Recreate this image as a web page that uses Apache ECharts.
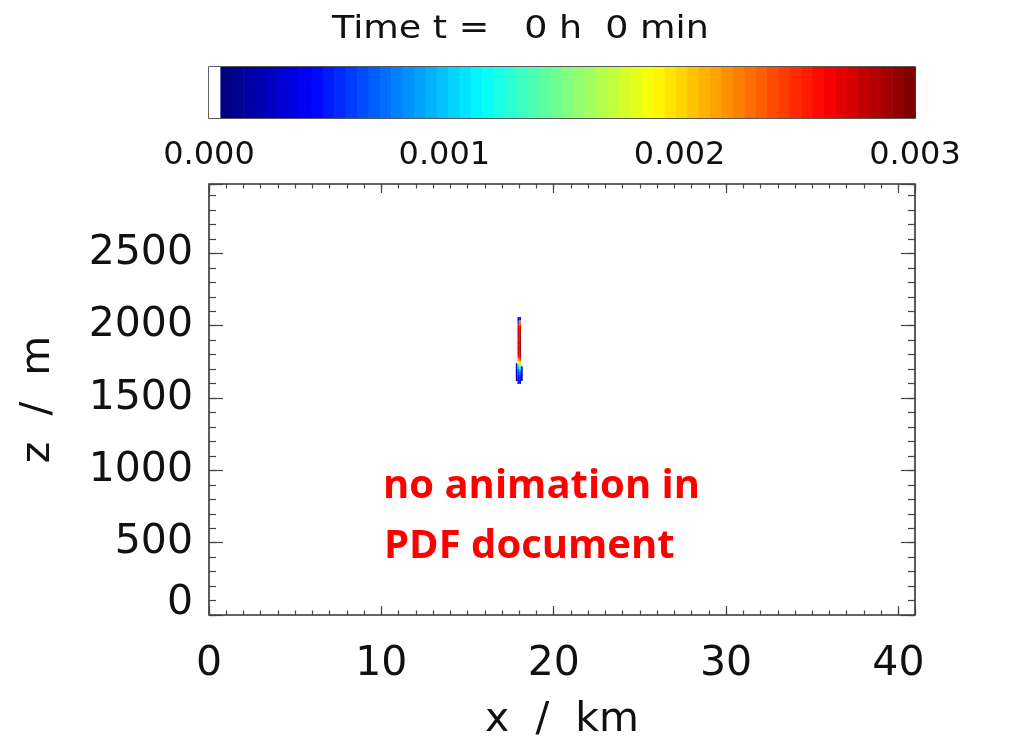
<!DOCTYPE html>
<html>
<head>
  <meta charset="UTF-8" />
  <title>Time t = 0 h 0 min</title>
  <script src="https://cdn.jsdelivr.net/npm/echarts@6/dist/echarts.min.js"></script>
  <style>
    html, body { margin: 0; padding: 0; background: #fff; }
    #main { width: 1010px; height: 739px; }
  </style>
</head>
<body>
  <div id="main"></div>
  <script>
    // colour scale (62 levels, first one white)
    const cbMax = 0.003;
    const nLevels = 62;
    const cbLabels = [0, 0.001, 0.002, 0.003];

    // model domain
    const xMaxKm = 40.96;
    const zMaxM = 2980;
    const xTicks = [0, 10, 20, 30, 40];
    const zTicks = [0, 500, 1000, 1500, 2000, 2500];

    // plume: column centres (km), row centres (m), values row by row
    const plumeX = [17.85, 17.95, 18.05, 18.15];
    const plumeZ = [1610, 1630, 1650, 1670, 1690, 1710, 1730, 1750, 1770, 1790,
                    1810, 1830, 1850, 1870, 1890, 1910, 1930, 1950, 1970, 1990,
                    2010, 2030, 2050];
    const plumeQ = [
      [0,      0.0002, 0.0003, 0     ],
      [0.0001, 0.0004, 0.0004, 0.0001],
      [0.0002, 0.0005, 0.0005, 0.0002],
      [0.0003, 0.0006, 0.0006, 0.0002],
      [0.0002, 0.0007, 0.0008, 0.0002],
      [0.0002, 0.0010, 0.0012, 0.0001],
      [0.0002, 0.0013, 0.0016, 0     ],
      [0,      0.0019, 0.0020, 0     ],
      [0,      0.0022, 0.0025, 0     ],
      [0,      0.0026, 0.0028, 0     ],
      [0,      0.0027, 0.0029, 0     ],
      [0,      0.0027, 0.0029, 0     ],
      [0,      0.0028, 0.0029, 0     ],
      [0,      0.0027, 0.0029, 0     ],
      [0,      0.0028, 0.0029, 0     ],
      [0,      0.0027, 0.0029, 0     ],
      [0,      0.0028, 0.0029, 0     ],
      [0,      0.0027, 0.0029, 0     ],
      [0,      0.0028, 0.0029, 0     ],
      [0,      0.0027, 0.0028, 0     ],
      [0,      0.0026, 0.0024, 0     ],
      [0,      0.0006, 0.0022, 0     ],
      [0,      0.0004, 0.0003, 0     ]
    ];

    const font = 'DejaVu Sans';
    const ink = '#111';
    const tickCol = '#444';

    function jet(t) {
      const c = v => Math.round(255 * Math.max(0, Math.min(1, v)));
      return 'rgb(' + c(1.5 - Math.abs(4 * t - 3)) + ',' + c(1.5 - Math.abs(4 * t - 2)) + ',' + c(1.5 - Math.abs(4 * t - 1)) + ')';
    }
    function levelOf(v) {
      return Math.min(nLevels - 1, Math.floor(v / (cbMax / nLevels)));
    }
    function levelColor(k) {
      return k === 0 ? '#ffffff' : jet((k - 1) / (nLevels - 2));
    }

    // colour bar bands
    const bands = [];
    for (let k = 0; k < nLevels; k++) {
      bands.push([k * cbMax / nLevels, (k + 1) * cbMax / nLevels, k]);
    }

    // plume cells
    const cells = [];
    plumeZ.forEach((z, i) => {
      plumeX.forEach((x, j) => {
        const v = plumeQ[i][j];
        if (levelOf(v) > 0) cells.push([x, z, v]);
      });
    });

    const isTick = (list, v) => list.some(t => Math.abs(t - v) < 1e-9);

    function tickAxis(pos, interval, len, extra) {
      return Object.assign({
        type: 'value', position: pos, interval: interval,
        axisLine: { show: false, onZero: false }, splitLine: { show: false },
        axisTick: { show: true, inside: true, length: len, lineStyle: { color: tickCol, width: 1.2 } },
        axisLabel: { show: false }
      }, extra);
    }

    const xMain = { gridIndex: 0, min: 0, max: xMaxKm };
    const zMain = { gridIndex: 0, min: 0, max: zMaxM };
    const cbX = { gridIndex: 1, min: 0, max: cbMax };

    let chart = echarts.init(document.getElementById('main'));
    chart.setOption({
      animation: false,
      backgroundColor: '#fff',
      grid: [
        { left: 209, top: 184, width: 706, height: 431, show: true, borderColor: '#333', borderWidth: 1.6,
          backgroundColor: 'transparent', containLabel: false, outerBoundsMode: 'none' },
        { left: 209, top: 67, width: 706, height: 51, show: true, borderColor: '#222', borderWidth: 1.4,
          backgroundColor: 'transparent', containLabel: false, outerBoundsMode: 'none' }
      ],
      xAxis: [
        tickAxis('bottom', 10, 9, Object.assign({}, xMain, {
          axisLabel: {
            show: true, margin: 29, fontFamily: font, fontSize: 41, color: ink,
            formatter: v => isTick(xTicks, v) ? String(v) : ''
          },
          name: 'x  /  km', nameLocation: 'middle', nameGap: 85,
          nameTextStyle: { fontFamily: font, fontSize: 41, color: ink }
        })),
        tickAxis('bottom', 1, 4.5, xMain),
        tickAxis('top', 10, 9, xMain),
        tickAxis('top', 1, 4.5, xMain),
        tickAxis('bottom', 0.0005, 5, Object.assign({}, cbX, {
          axisLabel: {
            show: true, margin: 22, fontFamily: font, fontSize: 32, color: ink,
            formatter: v => isTick(cbLabels, v) ? v.toFixed(3) : ''
          }
        })),
        tickAxis('top', 0.0005, 5, cbX)
      ],
      yAxis: [
        tickAxis('left', 500, 14, Object.assign({}, zMain, {
          axisLabel: {
            show: true, margin: 16, fontFamily: font, fontSize: 41, color: ink,
            formatter: v => v === 0 ? '{zero|0}' : (isTick(zTicks, v) ? String(v) : ''),
            rich: { zero: { fontFamily: font, fontSize: 41, color: ink, padding: [0, 0, 24, 0] } }
          },
          name: 'z  /  m', nameLocation: 'middle', nameRotate: 90, nameGap: 150,
          nameTextStyle: { fontFamily: font, fontSize: 41, color: ink }
        })),
        tickAxis('left', 100, 7, zMain),
        tickAxis('right', 500, 14, zMain),
        tickAxis('right', 100, 7, zMain),
        { gridIndex: 1, type: 'value', min: 0, max: 1, show: false }
      ],
      series: [
        {
          type: 'custom',
          xAxisIndex: 4, yAxisIndex: 4,
          silent: true,
          data: bands,
          renderItem: (params, api) => {
            const p0 = api.coord([api.value(0), 1]);
            const p1 = api.coord([api.value(1), 0]);
            return {
              type: 'rect',
              shape: { x: p0[0], y: p0[1], width: p1[0] - p0[0] + 0.6, height: p1[1] - p0[1] },
              style: { fill: levelColor(api.value(2)) }
            };
          },
          z: 1
        },
        {
          type: 'custom',
          xAxisIndex: 0, yAxisIndex: 0,
          silent: true,
          data: cells,
          renderItem: (params, api) => {
            const x = api.value(0), z = api.value(1);
            const p0 = api.coord([x - 0.05, z + 10]);
            const p1 = api.coord([x + 0.05, z - 10]);
            return {
              type: 'rect',
              shape: { x: p0[0], y: p0[1], width: p1[0] - p0[0], height: p1[1] - p0[1] + 0.3 },
              style: { fill: levelColor(levelOf(api.value(2))) }
            };
          }
        }
      ],
      graphic: [
        { type: 'text', x: 332, y: 30, scaleX: 1.14,
          style: { text: 'Time t =   0 h  0 min', font: '32px "DejaVu Sans"', fill: ink, verticalAlign: 'middle' } },
        { type: 'text', left: 383, top: 467,
          style: { text: 'no animation in', font: 'bold 40px "Open Sans"', fill: '#ff0000' } },
        { type: 'text', left: 384, top: 527,
          style: { text: 'PDF document', font: 'bold 40px "Open Sans"', fill: '#ff0000' } }
      ]
    });
  </script>
</body>
</html>
